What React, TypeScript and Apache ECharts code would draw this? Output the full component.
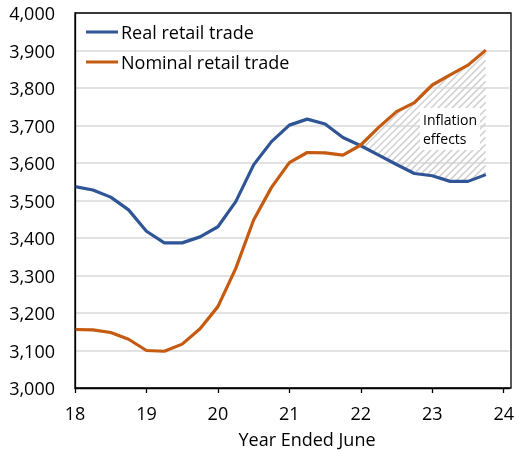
import React, { useEffect, useRef } from "react";
import * as echarts from "echarts";

const quarters = [
  18, 18.25, 18.5, 18.75, 19, 19.25, 19.5, 19.75, 20, 20.25, 20.5, 20.75,
  21, 21.25, 21.5, 21.75, 22, 22.25, 22.5, 22.75, 23, 23.25, 23.5, 23.75,
];
const realRetail = [
  3537, 3528, 3509, 3475, 3418, 3387, 3387, 3403, 3430, 3497, 3595, 3657,
  3701, 3717, 3704, 3668, 3646, 3621, 3596, 3572, 3566, 3551, 3551, 3569,
];
const nominalRetail = [
  3156, 3155, 3148, 3130, 3100, 3098, 3117, 3158, 3217, 3319, 3448, 3535,
  3601, 3628, 3627, 3621, 3648, 3695, 3737, 3761, 3808, 3835, 3861, 3901,
];
const xTickLabels = [18, 19, 20, 21, 22, 23, 24];
const yTicks = [3000, 3100, 3200, 3300, 3400, 3500, 3600, 3700, 3800, 3900, 4000];
const hatchStartIndex = 16;

const FONT = "Open Sans";
const GRID = { left: 75, top: 13, right: 6, bottom: 62 };
const W = 517;
const H = 450;

function renderHatch(params: any, api: any) {
  const pts: { x: number; yr: number; yn: number }[] = [];
  for (let i = hatchStartIndex; i < quarters.length; i++) {
    const r = api.coord([quarters[i], realRetail[i]]);
    const n = api.coord([quarters[i], nominalRetail[i]]);
    pts.push({ x: r[0], yr: r[1], yn: n[1] });
  }
  const x0 = pts[0].x;
  const x1 = pts[pts.length - 1].x;
  const interp = (x: number) => {
    for (let k = 0; k < pts.length - 1; k++) {
      const a = pts[k];
      const b = pts[k + 1];
      if (x >= a.x && x <= b.x) {
        const t = (x - a.x) / (b.x - a.x);
        return { yr: a.yr + t * (b.yr - a.yr), yn: a.yn + t * (b.yn - a.yn) };
      }
    }
    return null;
  };
  let yMin = Infinity;
  let yMax = -Infinity;
  pts.forEach((p) => {
    yMin = Math.min(yMin, p.yn, p.yr);
    yMax = Math.max(yMax, p.yn, p.yr);
  });
  const step = 7;
  const children: any[] = [];
  const cStart = Math.floor((x0 + yMin) / step) * step;
  for (let c = cStart; c <= x1 + yMax; c += step) {
    const xa = Math.max(x0, c - yMax);
    const xb = Math.min(x1, c - yMin);
    let seg: number[] | null = null;
    const push = () => {
      if (seg && seg[1] - seg[0] > 0.4) {
        children.push({
          type: "line",
          shape: { x1: seg[0], y1: c - seg[0], x2: seg[1], y2: c - seg[1] },
          style: { stroke: "#d2d2d2", lineWidth: 1.6 },
        });
      }
      seg = null;
    };
    for (let x = xa; x <= xb; x += 0.25) {
      const v = interp(x);
      const y = c - x;
      const inside = v !== null && y >= v.yn && y <= v.yr;
      if (inside) {
        if (!seg) seg = [x, x];
        else seg[1] = x;
      } else if (seg) {
        push();
      }
    }
    push();
  }
  return { type: "group", children };
}

export default function App() {
  const ref = useRef<HTMLDivElement>(null);
  useEffect(() => {
    if (!ref.current) return;
    const chart = echarts.init(ref.current, null, { renderer: "svg" });
    const realData = quarters.map((q, i) => [q, realRetail[i]]);
    const nomData = quarters.map((q, i) => [q, nominalRetail[i]]);

    chart.setOption({
      animation: false,
      grid: {
        left: GRID.left,
        right: GRID.right,
        top: GRID.top,
        bottom: GRID.bottom,
      },
      legend: {
        data: ["Real retail trade", "Nominal retail trade"],
        orient: "vertical",
        left: 86,
        top: 23,
        padding: 0,
        icon: "rect",
        itemWidth: 32,
        itemHeight: 3,
        itemGap: 12,
        textStyle: {
          fontFamily: FONT,
          fontSize: 18,
          color: "#000",
          padding: [0, 0, 0, -2],
        },
      },
      xAxis: {
        type: "value",
        min: 18,
        max: 24.08,
        interval: 1,
        axisLine: { show: true, lineStyle: { color: "#000", width: 1.3 } },
        axisTick: {
          show: true,
          length: 5,
          customValues: xTickLabels,
          lineStyle: { color: "#000", width: 1.3 },
        },
        axisLabel: {
          customValues: xTickLabels,
          margin: 16,
          fontFamily: FONT,
          fontSize: 18,
          color: "#000",
          formatter: (v: number) => String(v),
        },
        splitLine: { show: false },
      },
      yAxis: {
        type: "value",
        min: 3000,
        max: 4000,
        interval: 100,
        axisLine: { show: true, lineStyle: { color: "#000", width: 1.3 } },
        axisTick: { show: false },
        axisLabel: {
          customValues: yTicks,
          margin: 20,
          fontFamily: FONT,
          fontSize: 18,
          color: "#000",
          formatter: (v: number) => v.toLocaleString("en-US"),
        },
        splitLine: { show: true, lineStyle: { color: "#d9d9d9", width: 1.5 } },
      },
      graphic: [
        {
          type: "rect",
          z: 100,
          silent: true,
          shape: {
            x: GRID.left,
            y: GRID.top,
            width: W - GRID.left - GRID.right,
            height: H - GRID.top - GRID.bottom,
          },
          style: { fill: "none", stroke: "#000", lineWidth: 1.3 },
        },
        {
          type: "text",
          left: 420,
          top: 108,
          z: 100,
          style: {
            text: "Inflation\neffects",
            fontFamily: FONT,
            fontSize: 14,
            lineHeight: 19,
            fill: "#000",
            backgroundColor: "#fff",
            padding: [2, 3, 2, 3],
          },
        },
        {
          type: "text",
          x: 307,
          y: 439,
          style: {
            text: "Year Ended June",
            fontFamily: FONT,
            fontSize: 18,
            fill: "#000",
            align: "center",
            verticalAlign: "middle",
          },
        },
      ],
      series: [
        {
          name: "hatch",
          type: "custom",
          coordinateSystem: "cartesian2d",
          data: [[quarters[hatchStartIndex], realRetail[hatchStartIndex]]],
          renderItem: renderHatch,
          silent: true,
          z: 1,
        },
        {
          name: "Real retail trade",
          type: "line",
          data: realData,
          symbol: "none",
          color: "#2F5597",
          lineStyle: { color: "#2F5597", width: 3.2 },
          z: 5,
        },
        {
          name: "Nominal retail trade",
          type: "line",
          data: nomData,
          symbol: "none",
          color: "#C55A11",
          lineStyle: { color: "#C55A11", width: 3.2 },
          z: 5,
        },
      ],
    });
    return () => chart.dispose();
  }, []);
  return (
    <div
      ref={ref}
      style={{ position: "fixed", left: 0, top: 0, width: W, height: H }}
    />
  );
}
